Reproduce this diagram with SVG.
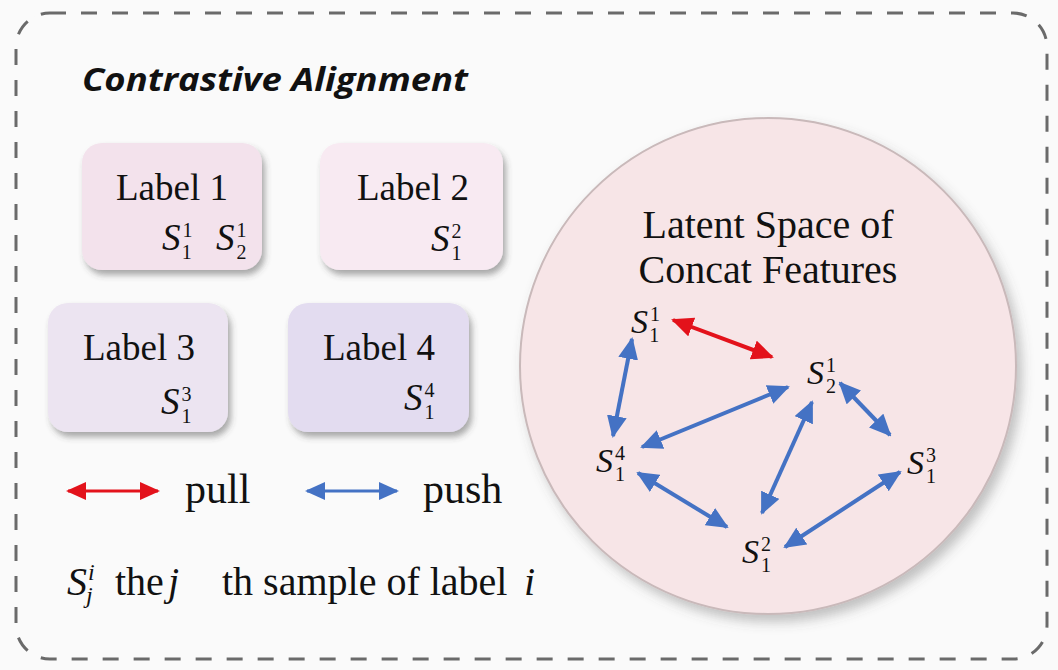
<svg xmlns="http://www.w3.org/2000/svg" width="1058" height="670" viewBox="0 0 1058 670">
<defs>
<style>
.lbl{font-family:"Liberation Serif","Times New Roman",serif;font-size:37px;fill:#111}
.S{font-family:"Liberation Serif","Times New Roman",serif;font-style:italic;font-size:37px;fill:#111}
.Sc{font-family:"Liberation Serif","Times New Roman",serif;font-style:italic;font-size:34px;fill:#111}
.d{font-style:normal;font-size:20px}
.big{font-family:"Liberation Serif","Times New Roman",serif;font-size:40px;fill:#111}
.leg{font-family:"Liberation Serif","Times New Roman",serif;font-size:42px;fill:#111}
.it{font-style:italic}
.sm{font-style:italic;font-size:24px}
.box{stroke:none;filter:url(#sh)}
.blue{stroke:#4472c4;stroke-width:4;fill:none;marker-start:url(#hb);marker-end:url(#hb)}
.red{stroke:#e3121b;stroke-width:4;fill:none;marker-start:url(#hr);marker-end:url(#hr)}
</style>
<filter id="sh" x="-20%" y="-20%" width="150%" height="150%">
<feDropShadow dx="3" dy="5" stdDeviation="3" flood-color="#444" flood-opacity="0.45"/>
</filter>
<filter id="csh" x="-20%" y="-20%" width="150%" height="150%">
<feDropShadow dx="5" dy="7" stdDeviation="6" flood-color="#555" flood-opacity="0.35"/>
</filter>
<marker id="hb" markerUnits="userSpaceOnUse" viewBox="0 0 22 20" markerWidth="22" markerHeight="20" refX="20" refY="10" orient="auto-start-reverse">
<path d="M0,0 L22,10 L0,20 z" fill="#4472c4"/>
</marker>
<marker id="hr" markerUnits="userSpaceOnUse" viewBox="0 0 22 20" markerWidth="22" markerHeight="20" refX="20" refY="10" orient="auto-start-reverse">
<path d="M0,0 L22,10 L0,20 z" fill="#e3121b"/>
</marker>
<marker id="lb" markerUnits="userSpaceOnUse" viewBox="0 0 20 18" markerWidth="20" markerHeight="18" refX="18" refY="9" orient="auto-start-reverse">
<path d="M0,0 L20,9 L0,18 z" fill="#4472c4"/>
</marker>
<marker id="lr" markerUnits="userSpaceOnUse" viewBox="0 0 20 18" markerWidth="20" markerHeight="18" refX="18" refY="9" orient="auto-start-reverse">
<path d="M0,0 L20,9 L0,18 z" fill="#e3121b"/>
</marker>
</defs>
<rect x="0" y="0" width="1058" height="670" fill="#fafafa"/>
<rect id="frame" x="16" y="13" width="1031" height="646" rx="34" fill="#fafafa" stroke="#6a6a6a" stroke-width="3" stroke-dasharray="16 15"/>
<text id="title" x="82" y="91" font-family="'Open Sans','Noto Sans',sans-serif" font-weight="bold" font-style="italic" font-size="32" textLength="386" lengthAdjust="spacingAndGlyphs" fill="#111">Contrastive Alignment</text>

<g id="label1">
<rect class="box" x="82" y="143" width="180" height="127" rx="20" fill="#f3e2ec"/>
<text class="lbl" x="116" y="200">Label 1</text>
<text class="S" x="162" y="250">S<tspan class="d" dx="2" dy="-13">1</tspan><tspan class="d" dx="-10" dy="22">1</tspan></text>
<text class="S" x="216" y="250">S<tspan class="d" dx="2" dy="-13">1</tspan><tspan class="d" dx="-10" dy="22">2</tspan></text>
</g>
<g id="label2">
<rect class="box" x="320" y="143" width="183" height="127" rx="20" fill="#f8eaf2"/>
<text class="lbl" x="357" y="200">Label 2</text>
<text class="S" x="431" y="251">S<tspan class="d" dx="2" dy="-13">2</tspan><tspan class="d" dx="-10" dy="22">1</tspan></text>
</g>
<g id="label3">
<rect class="box" x="48" y="303" width="180" height="129" rx="20" fill="#ece4f1"/>
<text class="lbl" x="83" y="360">Label 3</text>
<text class="S" x="161" y="414">S<tspan class="d" dx="2" dy="-13">3</tspan><tspan class="d" dx="-10" dy="22">1</tspan></text>
</g>
<g id="label4">
<rect class="box" x="288" y="303" width="181" height="129" rx="20" fill="#e3dcf0"/>
<text class="lbl" x="323" y="360">Label 4</text>
<text class="S" x="404" y="410">S<tspan class="d" dx="2" dy="-13">4</tspan><tspan class="d" dx="-10" dy="22">1</tspan></text>
</g>

<g id="latent">
<circle cx="768" cy="366" r="248" fill="#f7e5e7" stroke="#c9b9ba" stroke-width="2" filter="url(#csh)"/>
<text class="big" x="768" y="238" text-anchor="middle">Latent Space of</text>
<text class="big" x="768" y="283" text-anchor="middle">Concat Features</text>
</g>
<g id="s11"><text class="Sc" x="631" y="333">S<tspan class="d" dx="2" dy="-12">1</tspan><tspan class="d" dx="-10" dy="21">1</tspan></text></g>
<g id="s21"><text class="Sc" x="807" y="384">S<tspan class="d" dx="2" dy="-12">1</tspan><tspan class="d" dx="-10" dy="21">2</tspan></text></g>
<g id="s14"><text class="Sc" x="596" y="472">S<tspan class="d" dx="2" dy="-12">4</tspan><tspan class="d" dx="-10" dy="21">1</tspan></text></g>
<g id="s13"><text class="Sc" x="907" y="474">S<tspan class="d" dx="2" dy="-12">3</tspan><tspan class="d" dx="-10" dy="21">1</tspan></text></g>
<g id="s12"><text class="Sc" x="742" y="563">S<tspan class="d" dx="2" dy="-12">2</tspan><tspan class="d" dx="-10" dy="21">1</tspan></text></g>

<g id="connectors">
<line class="red" x1="673" y1="320" x2="772" y2="357"/>
<line class="blue" x1="632" y1="339" x2="613" y2="436"/>
<line class="blue" x1="642" y1="447" x2="788" y2="387"/>
<line class="blue" x1="812" y1="402" x2="762" y2="513"/>
<line class="blue" x1="840" y1="383" x2="890" y2="435"/>
<line class="blue" x1="638" y1="473" x2="727" y2="527"/>
<line class="blue" x1="785" y1="547" x2="900" y2="472"/>
<line x1="68" y1="491" x2="158" y2="491" stroke="#e3121b" stroke-width="3" marker-start="url(#lr)" marker-end="url(#lr)"/>
<line x1="307" y1="491" x2="397" y2="491" stroke="#4472c4" stroke-width="3" marker-start="url(#lb)" marker-end="url(#lb)"/>
</g>

<g id="legend">
<text class="leg" x="185" y="503">pull</text>
<text class="leg" x="423" y="503">push</text>
<text class="big"><tspan class="it" x="67" y="595">S</tspan><tspan class="sm" x="88" y="580">i</tspan><tspan class="sm" x="86" y="603">j</tspan><tspan x="115" y="595">the</tspan><tspan class="it" x="168" y="595">j</tspan><tspan x="222" y="595">th sample of label</tspan><tspan class="it" x="524" y="595">i</tspan></text>
</g>
</svg>
